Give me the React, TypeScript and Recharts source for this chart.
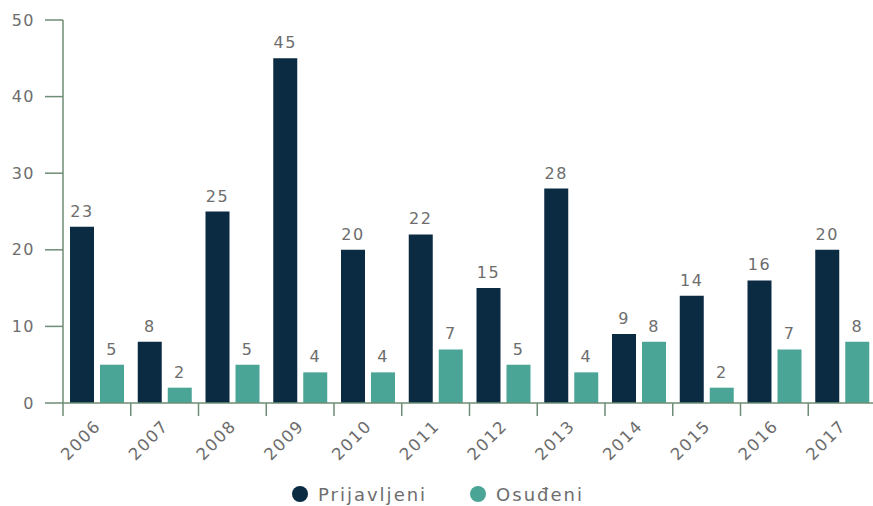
import { BarChart, Bar, XAxis, YAxis, LabelList } from 'recharts'

const years = ['2006', '2007', '2008', '2009', '2010', '2011', '2012', '2013', '2014', '2015', '2016', '2017']
const prijavljeni = [23, 8, 25, 45, 20, 22, 15, 28, 9, 14, 16, 20]
const osudeni = [5, 2, 5, 4, 4, 7, 5, 4, 8, 2, 7, 8]
const yTicks = [0, 10, 20, 30, 40, 50]
const seriesNames = ['Prijavljeni', 'Osuđeni']

const data = years.map((year, i) => ({
  year,
  prijavljeni: prijavljeni[i],
  osudeni: osudeni[i],
}))

const DARK = '#0b2b42'
const TEAL = '#4ba596'
const AXIS = '#6e8d76'
const TEXT = '#6d6d6d'
const FONT = '"DejaVu Sans", sans-serif'

const CHART_W = 880
const CHART_H = 482
const LEGEND_H = 24
const Y_AXIS_W = 63
const MARGIN = { top: 20, right: 4, left: 0, bottom: 0 }
const BAND = (CHART_W - MARGIN.left - MARGIN.right - Y_AXIS_W) / years.length

function YearTick({ x, y, payload }: { x?: number; y?: number; payload?: { value: string } }) {
  const bx = (x ?? 0) - BAND / 2
  const ty = (y ?? 0) + 24
  const tx = (x ?? 0) + 5
  return (
    <g>
      <line x1={bx} y1={y} x2={bx} y2={(y ?? 0) + 13} stroke={AXIS} strokeWidth={1.5} />
      <text
        x={tx}
        y={ty}
        textAnchor="end"
        transform={`rotate(-45, ${tx}, ${ty})`}
        fontSize={16.5}
        letterSpacing={1.6}
        fill={TEXT}
        fontFamily={FONT}
      >
        {payload?.value}
      </text>
    </g>
  )
}

function ChartLegend() {
  const colors = [DARK, TEAL]
  return (
    <div
      style={{
        display: 'flex',
        justifyContent: 'flex-start',
        alignItems: 'center',
        gap: 43,
        height: LEGEND_H,
        width: 873,
        paddingLeft: 292,
        boxSizing: 'border-box',
        fontFamily: FONT,
        fontSize: 18,
        letterSpacing: 2,
        color: TEXT,
      }}
    >
      {seriesNames.map((name, i) => (
        <span key={name} style={{ display: 'flex', alignItems: 'center' }}>
          <svg width={16} height={16} style={{ marginRight: 10 }}>
            <circle cx={8} cy={8} r={8} fill={colors[i]} />
          </svg>
          {name}
        </span>
      ))}
    </div>
  )
}

export default function App() {
  return (
    <div style={{ position: 'fixed', left: 0, top: 0, width: 873, height: 506, overflow: 'hidden', background: '#fff' }}>
      <BarChart
        width={CHART_W}
        height={CHART_H}
        data={data}
        margin={MARGIN}
        barCategoryGap={7}
        barGap={6}
      >
        <XAxis
          dataKey="year"
          height={79}
          tickSize={0}
          tickMargin={0}
          axisLine={{ stroke: AXIS, strokeWidth: 1.5 }}
          tick={<YearTick />}
          interval={0}
        />
        <YAxis
          width={Y_AXIS_W}
          domain={[0, 50]}
          ticks={yTicks}
          tickSize={18}
          tickMargin={10}
          axisLine={{ stroke: AXIS, strokeWidth: 1.5 }}
          tickLine={{ stroke: AXIS, strokeWidth: 1.5 }}
          tick={{ fontSize: 16, fill: TEXT, fontFamily: FONT, letterSpacing: 1.5 }}
        />
        <Bar dataKey="prijavljeni" name={seriesNames[0]} fill={DARK} isAnimationActive={false}>
          <LabelList dataKey="prijavljeni" position="top" offset={10} fontSize={16} fill={TEXT} fontFamily={FONT} letterSpacing={1.5} />
        </Bar>
        <Bar dataKey="osudeni" name={seriesNames[1]} fill={TEAL} isAnimationActive={false}>
          <LabelList dataKey="osudeni" position="top" offset={10} fontSize={16} fill={TEXT} fontFamily={FONT} letterSpacing={1.5} />
        </Bar>
      </BarChart>
      <ChartLegend />
    </div>
  )
}
